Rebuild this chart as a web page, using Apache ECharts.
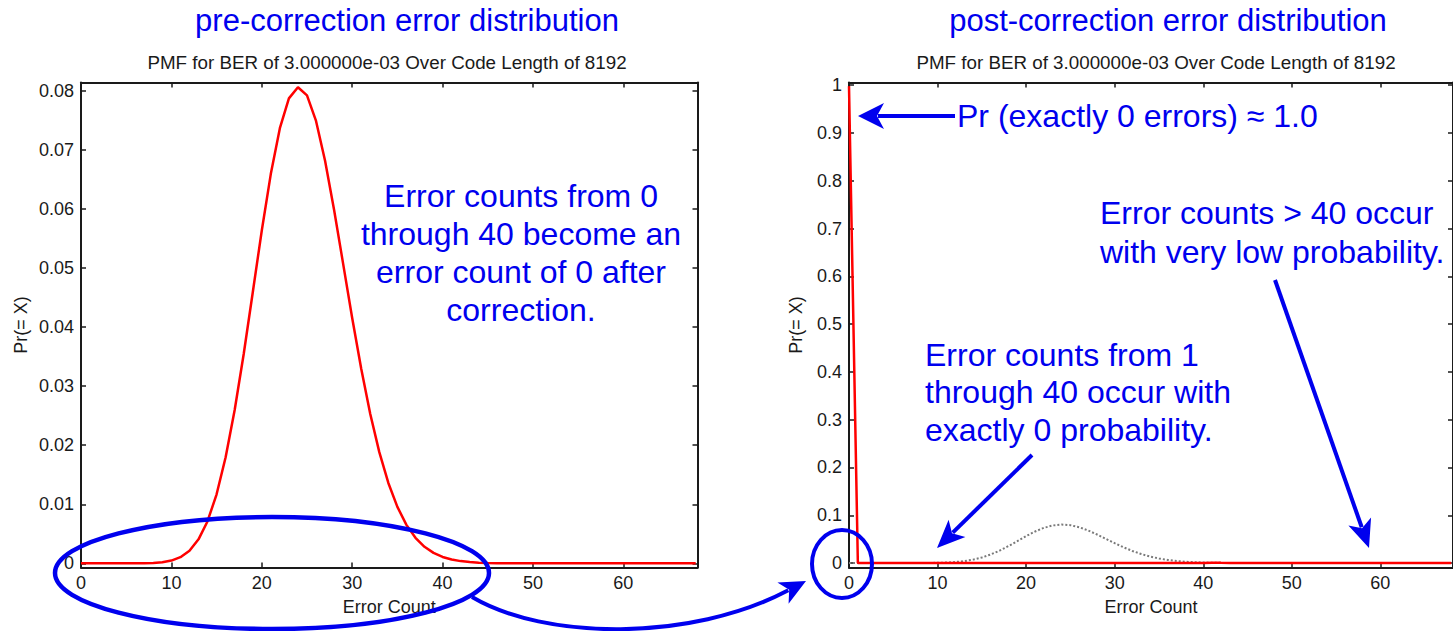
<!DOCTYPE html>
<html>
<head>
<meta charset="utf-8">
<title>Error distribution before and after correction</title>
<script src="https://cdn.jsdelivr.net/npm/echarts@6/dist/echarts.min.js"></script>
<style>
  html, body { margin: 0; padding: 0; background: #ffffff; }
  #chart { width: 1453px; height: 631px; }
</style>
</head>
<body>
<div id="chart"></div>
<script>
// Error counts on the horizontal axis
const errorCounts = [
  0, 1, 2, 3, 4, 5, 6, 7, 8, 9,
  10, 11, 12, 13, 14, 15, 16, 17, 18, 19,
  20, 21, 22, 23, 24, 25, 26, 27, 28, 29,
  30, 31, 32, 33, 34, 35, 36, 37, 38, 39,
  40, 41, 42, 43, 44, 45, 46, 47, 48, 49,
  50, 51, 52, 53, 54, 55, 56, 57, 58, 59,
  60, 61, 62, 63, 64, 65, 66, 67, 68
];

// PMF of the raw error count (BER 3e-3, code length 8192)
const preCorrection = [
  0, 0, 0, 0.00000005, 0.00000032, 0.0000016, 0.0000065, 0.0000228, 0.00007, 0.000191,
  0.00047, 0.00105, 0.00215, 0.00407, 0.00714, 0.01169, 0.01796, 0.02597, 0.03545, 0.04586,
  0.05635, 0.06594, 0.07366, 0.07871, 0.0806, 0.07923, 0.07489, 0.06817, 0.05983, 0.0507,
  0.04154, 0.03293, 0.02529, 0.01883, 0.01361, 0.00956, 0.00652, 0.00433, 0.0028, 0.00177,
  0.00109, 0.000651, 0.000381, 0.000218, 0.000122, 0.0000664, 0.0000355, 0.0000186, 0.0000095, 0.0000048,
  0.0000024, 0.0000011, 0.0000005, 0.0000002, 0.0000001, 0, 0, 0, 0, 0,
  0, 0, 0, 0, 0, 0, 0, 0, 0
];

// PMF of the error count left after correction (counts 1..40 are corrected to 0)
const postCorrection = [
  0.998, 0, 0, 0, 0, 0, 0, 0, 0, 0,
  0, 0, 0, 0, 0, 0, 0, 0, 0, 0,
  0, 0, 0, 0, 0, 0, 0, 0, 0, 0,
  0, 0, 0, 0, 0, 0, 0, 0, 0, 0,
  0, 0.000651, 0.000381, 0.000218, 0.000122, 0.0000664, 0.0000355, 0.0000186, 0.0000095, 0.0000048,
  0.0000024, 0.0000011, 0.0000005, 0.0000002, 0.0000001, 0, 0, 0, 0, 0,
  0, 0, 0, 0, 0, 0, 0, 0, 0
];

// Tick labels
const xTicks = [0, 10, 20, 30, 40, 50, 60];
const yTicksPre = [0, 0.01, 0.02, 0.03, 0.04, 0.05, 0.06, 0.07, 0.08];
const yTicksPost = [0, 0.1, 0.2, 0.3, 0.4, 0.5, 0.6, 0.7, 0.8, 0.9, 1];

const FONT = "'Liberation Sans', Arial, Helvetica, sans-serif";
const INK = '#1a1a1a';
const BLUE = '#0000ee';

const pairs = (ys) => errorCounts.map((x, i) => [x, ys[i]]);

function tickFormatter(list) {
  return (v) => {
    const hit = list.find((t) => Math.abs(t - v) < 1e-9);
    return hit === undefined ? '' : String(hit);
  };
}

function xAxisPair(gridIndex) {
  const common = {
    gridIndex, type: 'value', min: 0, max: 68.2, interval: 10,
    splitLine: { show: false },
    axisLine: { show: true, onZero: false, lineStyle: { color: INK, width: 2 } },
    axisTick: { show: true, inside: true, length: 5, lineStyle: { color: INK, width: 1.5 } }
  };
  return [
    Object.assign({}, common, {
      position: 'bottom',
      name: 'Error Count', nameLocation: 'middle', nameGap: 30,
      nameTextStyle: { fontFamily: FONT, fontSize: 18, color: INK },
      axisLabel: {
        show: true, margin: 6, fontFamily: FONT, fontSize: 18, color: INK,
        showMaxLabel: false, formatter: tickFormatter(xTicks)
      }
    }),
    Object.assign({}, common, { position: 'top', axisLabel: { show: false } })
  ];
}

// The value range starts a little below zero, so the step comes from splitNumber
// (nice ticks on multiples of the step) rather than from a fixed interval.
function yAxisPair(gridIndex, min, max, splitNumber, ticks, gap) {
  const common = {
    gridIndex, type: 'value', min, max, splitNumber,
    splitLine: { show: false },
    axisLine: { show: true, onZero: false, lineStyle: { color: INK, width: 2 } },
    axisTick: { show: true, inside: true, length: 5, lineStyle: { color: INK, width: 1.5 } }
  };
  return [
    Object.assign({}, common, {
      position: 'left',
      name: 'Pr(= X)', nameLocation: 'middle', nameGap: gap,
      nameTextStyle: { fontFamily: FONT, fontSize: 18, color: INK },
      axisLabel: {
        show: true, margin: 7, fontFamily: FONT, fontSize: 18, color: INK,
        showMinLabel: false, showMaxLabel: false, formatter: tickFormatter(ticks)
      }
    }),
    Object.assign({}, common, { position: 'right', axisLabel: { show: false } })
  ];
}

// Straight arrow with a notched head ending at (x2, y2)
function arrow(x1, y1, x2, y2, head, half) {
  const dx = x2 - x1, dy = y2 - y1, len = Math.hypot(dx, dy);
  const ux = dx / len, uy = dy / len, px = -uy, py = ux;
  const bx = x2 - ux * head, by = y2 - uy * head;
  return [
    { type: 'line', z: 100, shape: { x1, y1, x2: bx + ux * 6, y2: by + uy * 6 },
      style: { stroke: BLUE, lineWidth: 4 } },
    { type: 'polygon', z: 100,
      shape: { points: [[x2, y2], [bx + px * half, by + py * half], [bx + ux * 7, by + uy * 7], [bx - px * half, by - py * half]] },
      style: { fill: BLUE } }
  ];
}

// Curved arrow from the left ellipse to the zero bin of the right plot
function curvedArrow(x1, y1, c1x, c1y, c2x, c2y, x2, y2, head, half) {
  const dx = x2 - c2x, dy = y2 - c2y, len = Math.hypot(dx, dy);
  const ux = dx / len, uy = dy / len, px = -uy, py = ux;
  const bx = x2 - ux * head, by = y2 - uy * head;
  return [
    { type: 'bezierCurve', z: 100,
      shape: { x1, y1, cpx1: c1x, cpy1: c1y, cpx2: c2x, cpy2: c2y, x2: bx + ux * 6, y2: by + uy * 6 },
      style: { stroke: BLUE, lineWidth: 4, fill: null } },
    { type: 'polygon', z: 100,
      shape: { points: [[x2, y2], [bx + px * half, by + py * half], [bx + ux * 7, by + uy * 7], [bx - px * half, by - py * half]] },
      style: { fill: BLUE } }
  ];
}

function text(x, y, str, size, color, align, lineHeight) {
  return {
    type: 'text', z: 100, x, y,
    style: {
      text: str, fontFamily: FONT, fontSize: size, fill: color,
      align, verticalAlign: 'middle', lineHeight: lineHeight || size * 1.2
    }
  };
}

const chart = echarts.init(document.getElementById('chart'), null, { renderer: 'svg' });

const xAxes = [...xAxisPair(0), ...xAxisPair(1)];
const yAxes = [
  ...yAxisPair(0, -0.0007, 0.0814, 8, yTicksPre, 51),
  ...yAxisPair(1, -0.0093, 1.0056, 10, yTicksPost, 44)
];

const graphics = [
  text(407, 20, 'pre-correction error distribution', 31, BLUE, 'center'),
  text(1168, 20, 'post-correction error distribution', 31, BLUE, 'center'),
  text(387, 62, 'PMF for BER of 3.000000e-03 Over Code Length of 8192', 18.8, INK, 'center'),
  text(1156, 62, 'PMF for BER of 3.000000e-03 Over Code Length of 8192', 18.8, INK, 'center'),
  text(521, 253, 'Error counts from 0\nthrough 40 become an\nerror count of 0 after\ncorrection.', 32, BLUE, 'center', 38),
  text(957, 116, 'Pr (exactly 0 errors) \u2248 1.0', 32, BLUE, 'left'),
  text(1100, 232, 'Error counts > 40 occur\nwith very low probability.', 32, BLUE, 'left', 39),
  text(925, 392, 'Error counts from 1\nthrough 40 occur with\nexactly 0 probability.', 32, BLUE, 'left', 37.5),
  { type: 'ellipse', z: 100, shape: { cx: 272, cy: 573, rx: 217, ry: 56 },
    style: { fill: null, stroke: BLUE, lineWidth: 4.5 } },
  { type: 'ellipse', z: 100, shape: { cx: 842, cy: 564, rx: 30, ry: 34 },
    style: { fill: null, stroke: BLUE, lineWidth: 4 } },
  ...arrow(955, 116, 858, 116, 26, 13),
  ...arrow(1032, 455, 937, 548, 28, 12),
  ...arrow(1275, 280, 1369, 548, 28, 12),
  ...curvedArrow(472, 597, 545, 640, 690, 642, 806, 581, 26, 12)
];

chart.setOption({
  animation: false,
  backgroundColor: '#ffffff',
  grid: [
    { left: 81, top: 82.5, width: 616.5, height: 485 },
    { left: 849, top: 82.5, width: 616.5, height: 485 }
  ],
  xAxis: xAxes,
  yAxis: yAxes,
  series: [
    {
      name: 'pre-correction', type: 'line', xAxisIndex: 0, yAxisIndex: 0,
      data: pairs(preCorrection), showSymbol: false, symbol: 'none',
      lineStyle: { color: '#ff0000', width: 2.5 }, z: 2
    },
    {
      name: 'pre-correction (reference)', type: 'line', xAxisIndex: 2, yAxisIndex: 2,
      data: pairs(preCorrection), showSymbol: false, symbol: 'none',
      lineStyle: { color: '#7a7a7a', width: 2, type: 'dotted' }, z: 1
    },
    {
      name: 'post-correction', type: 'line', xAxisIndex: 2, yAxisIndex: 2,
      data: pairs(postCorrection), showSymbol: false, symbol: 'none',
      lineStyle: { color: '#ff0000', width: 2.5 }, z: 2
    }
  ],
  graphic: graphics
});
</script>
</body>
</html>
